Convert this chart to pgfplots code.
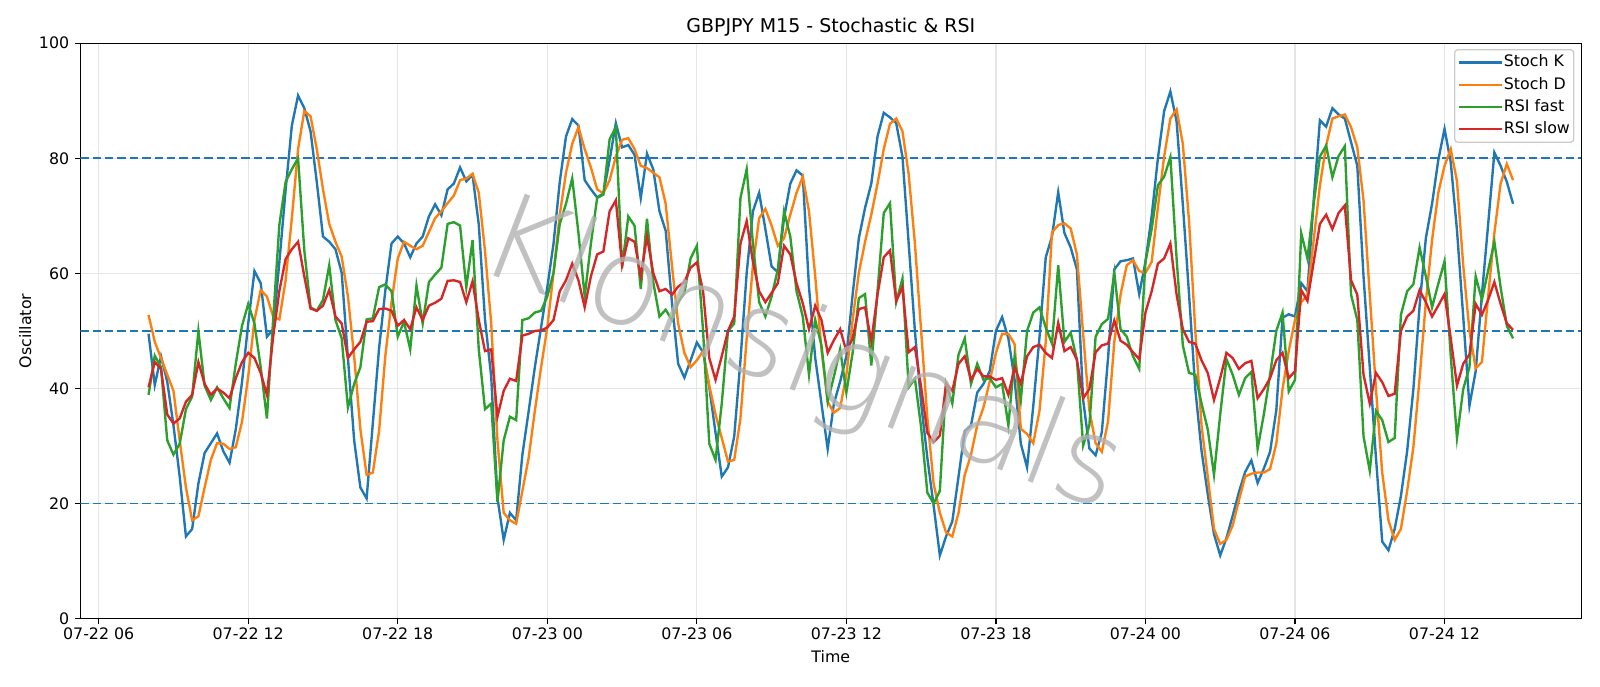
\documentclass[border=0pt]{standalone}
\usepackage{fontspec}
\setmainfont{DejaVu Sans}
\newfontfamily\wmfont{DejaVuSans-ExtraLight.ttf}
\usepackage{pgfplots}
\usepackage{pgfplotstable}
\pgfplotsset{compat=1.18}
\definecolor{c0}{HTML}{1F77B4}
\definecolor{c1}{HTML}{FF7F0E}
\definecolor{c2}{HTML}{2CA02C}
\definecolor{c3}{HTML}{D62728}
\pgfplotstableread{
t k d f s
8.00 49.5 52.8 38.9 40.2
8.25 40.6 48.1 45.7 44.6
8.50 45.6 45.3 43.7 43.4
8.75 41.2 42.4 31.0 35.5
9.00 33.6 39.6 28.5 33.9
9.25 24.7 31.0 30.4 34.8
9.50 14.3 22.8 36.4 37.7
9.75 15.6 17.1 38.6 38.9
10.00 23.5 17.8 50.0 44.6
10.25 28.8 22.8 40.5 40.8
10.50 30.5 27.6 38.0 38.9
10.75 32.2 30.5 40.2 40.0
11.00 29.1 30.4 38.3 39.3
11.25 27.1 29.5 36.6 38.3
11.50 32.9 29.8 44.3 41.8
11.75 41.1 34.2 50.9 44.6
12.00 51.3 42.1 54.7 46.2
12.25 60.4 51.9 51.3 45.3
12.50 58.3 57.1 43.7 42.7
12.75 49.0 56.0 34.8 38.9
13.00 50.3 52.5 52.0 49.0
13.25 62.0 52.0 68.5 57.0
13.50 74.5 58.8 75.9 62.5
13.75 85.7 69.6 78.1 64.2
14.00 90.9 81.6 80.0 65.5
14.25 88.7 88.2 64.0 59.5
14.50 84.7 87.3 54.1 53.9
14.75 75.9 81.6 53.5 53.5
15.00 66.4 74.6 55.4 54.4
15.25 65.5 68.6 61.4 57.1
15.50 64.2 65.5 51.9 52.5
15.75 60.1 62.9 48.7 51.3
16.00 45.3 56.0 36.7 45.3
16.25 31.0 45.6 40.8 46.8
16.50 22.8 32.9 43.7 48.1
16.75 20.9 25.0 52.0 51.6
17.00 34.0 25.4 52.2 51.7
17.25 47.0 32.6 57.6 53.8
17.50 57.0 45.6 58.1 53.9
17.75 65.2 55.0 56.9 53.5
18.00 66.4 62.6 49.0 50.9
18.25 65.2 65.5 51.6 51.9
18.50 62.8 64.8 46.8 50.3
18.75 65.2 64.2 57.9 54.1
19.00 66.4 64.8 51.3 51.9
19.25 69.9 67.2 58.5 54.4
19.50 72.0 69.6 59.8 54.9
19.75 70.1 70.8 61.0 55.6
20.00 74.6 72.2 68.6 58.7
20.25 75.6 73.5 68.9 58.8
20.50 78.4 76.2 68.3 58.5
20.75 76.0 76.5 57.6 55.0
21.00 77.1 77.3 65.8 58.6
21.25 68.5 74.0 46.8 51.9
21.50 52.0 63.9 36.4 46.5
21.75 42.0 51.3 37.4 46.8
22.00 21.0 31.0 20.3 35.1
22.25 13.7 18.4 31.0 39.6
22.50 18.4 17.1 35.1 41.7
22.75 17.1 16.5 34.5 41.3
23.00 28.5 22.2 51.9 49.2
23.25 36.0 27.9 52.2 49.5
23.50 43.7 36.1 53.2 50.0
23.75 50.6 43.7 53.5 50.1
24.00 57.6 50.6 56.0 50.6
24.25 65.2 60.1 60.1 51.9
24.50 75.9 70.2 68.6 56.9
24.75 83.8 77.5 72.1 58.8
25.00 86.8 82.5 76.5 61.7
25.25 85.7 85.4 67.0 58.8
25.50 76.2 81.6 56.0 54.1
25.75 74.6 78.4 65.2 59.5
26.00 73.2 74.6 73.1 63.3
26.25 73.9 73.9 73.7 63.8
26.50 79.7 76.2 83.3 70.8
26.75 86.1 80.3 85.4 72.7
27.00 81.9 83.2 61.0 61.4
27.25 82.3 83.5 69.9 66.1
27.50 80.6 81.6 68.3 65.5
27.75 73.1 78.7 57.3 59.5
28.00 80.8 78.3 69.5 66.4
28.25 78.1 77.5 58.5 60.1
28.50 70.8 76.7 52.5 56.9
28.75 67.4 72.1 53.7 57.3
29.00 55.0 61.4 51.9 56.3
29.25 44.3 51.3 55.0 57.7
29.50 41.9 46.2 56.6 58.5
29.75 44.9 43.7 62.6 61.0
30.00 48.0 44.9 64.8 61.9
30.25 46.3 46.5 50.0 56.9
30.50 40.2 40.5 30.4 45.3
30.75 32.3 35.5 27.6 41.5
31.00 24.7 31.4 37.4 45.6
31.25 26.3 27.3 50.0 50.0
31.50 31.7 27.6 51.3 52.5
31.75 44.9 34.8 73.1 65.2
32.00 60.1 48.7 78.1 69.1
32.25 70.8 61.4 65.2 62.0
32.50 74.0 69.6 55.0 56.9
32.75 67.7 71.2 52.5 55.0
33.00 61.2 68.3 56.0 56.6
33.25 60.2 64.8 60.7 58.3
33.50 69.7 66.1 70.8 64.8
33.75 75.6 70.2 66.4 63.3
34.00 77.9 74.0 56.9 58.3
34.25 77.0 76.8 52.5 54.8
34.50 57.6 70.8 42.4 50.3
34.75 45.3 59.5 51.9 54.4
35.00 37.4 46.8 47.5 51.9
35.25 29.5 37.7 37.7 46.2
35.50 37.4 35.8 42.1 48.4
35.75 41.2 36.6 46.8 50.3
36.00 45.6 42.4 39.3 46.5
36.25 56.3 51.9 46.2 48.7
36.50 66.1 60.1 55.7 53.8
36.75 71.4 65.5 56.4 54.1
37.00 75.6 70.2 44.0 48.2
37.25 83.8 75.6 56.9 56.3
37.50 87.9 81.6 70.5 62.8
37.75 87.1 86.0 72.2 64.0
38.00 86.1 86.9 55.0 55.2
38.25 80.3 84.7 59.1 57.6
38.50 65.2 77.2 40.2 46.3
38.75 50.0 65.2 41.7 47.2
39.00 37.4 50.0 33.2 40.2
39.25 27.9 34.8 21.9 32.3
39.50 19.7 23.5 20.0 30.7
39.75 11.0 18.4 22.2 31.8
40.00 14.3 15.0 40.8 40.8
40.25 16.9 14.3 37.4 39.6
40.50 24.7 18.4 45.9 44.3
40.75 32.6 25.0 48.7 45.6
41.00 33.6 28.5 40.8 41.5
41.25 39.3 33.6 44.3 43.4
41.50 40.8 36.7 41.5 42.1
41.75 43.0 41.2 41.8 42.1
42.00 50.0 46.2 40.2 41.5
42.25 52.4 49.5 40.8 41.8
42.50 48.7 49.5 33.6 38.9
42.75 41.5 47.7 45.6 43.7
43.00 30.4 33.0 38.0 40.8
43.25 26.3 32.1 50.0 45.6
43.50 37.0 30.5 53.2 47.2
43.75 49.0 36.2 54.1 47.6
44.00 62.8 48.1 50.6 46.2
44.25 66.4 67.1 47.8 45.3
44.50 74.1 68.4 61.4 51.4
44.75 67.0 68.7 48.1 46.5
45.00 64.5 67.8 49.7 47.2
45.25 60.7 63.3 45.0 45.0
45.50 38.0 49.5 30.1 38.3
45.75 29.6 36.2 33.6 39.9
46.00 28.4 30.5 49.0 46.3
46.25 32.4 29.0 51.2 47.5
46.50 45.3 34.3 52.1 47.8
46.75 60.7 48.1 60.1 51.8
47.00 62.1 56.3 50.3 48.3
47.25 62.3 61.4 49.0 47.6
47.50 62.6 62.3 45.6 46.3
47.75 56.4 60.4 43.4 45.1
48.00 62.0 60.1 62.0 53.2
48.25 70.0 62.0 67.7 56.9
48.50 80.0 71.5 75.3 61.7
48.75 88.2 80.3 76.8 62.6
49.00 91.6 86.9 80.2 65.2
49.25 86.4 88.5 62.6 56.3
49.50 72.0 82.5 47.5 50.3
49.75 56.3 69.0 42.7 48.1
50.00 39.9 50.0 42.4 47.8
50.25 29.2 33.6 37.4 44.9
50.50 21.6 24.7 32.9 42.7
50.75 14.7 15.6 25.0 38.0
51.00 11.0 13.0 35.5 41.8
51.25 14.0 13.7 45.1 46.2
51.50 17.9 16.2 42.4 45.3
51.75 22.0 20.6 38.9 43.4
52.00 25.5 24.7 41.8 44.4
52.25 27.5 25.2 42.9 44.8
52.50 23.6 25.4 29.5 38.3
52.75 26.1 25.4 35.5 39.9
53.00 29.0 26.0 42.4 41.8
53.25 36.2 30.4 50.0 44.9
53.50 52.3 39.9 53.2 46.2
53.75 52.9 46.5 39.5 41.8
54.00 52.5 51.9 41.5 43.0
54.25 58.3 55.0 67.0 57.1
54.50 56.9 56.3 62.6 55.2
54.75 72.7 65.8 72.1 62.0
55.00 86.6 75.3 80.3 68.6
55.25 85.5 82.2 82.2 70.2
55.50 88.7 86.9 76.7 67.7
55.75 87.6 87.3 80.4 70.5
56.00 86.9 87.6 82.1 71.8
56.25 82.8 85.4 56.3 58.8
56.50 78.7 81.9 51.9 56.3
56.75 59.5 72.7 31.7 42.4
57.00 43.7 56.3 25.7 37.4
57.25 27.9 39.9 36.1 42.7
57.50 13.4 25.4 34.5 41.1
57.75 11.9 17.1 30.7 38.7
58.00 15.6 13.7 31.4 39.1
58.25 21.3 15.6 52.8 50.0
58.50 29.1 22.2 56.9 52.5
58.75 39.9 29.8 58.1 53.5
59.00 54.4 41.8 64.5 57.1
59.25 66.1 55.0 59.5 55.0
59.50 72.1 65.8 54.1 52.5
59.75 79.7 74.0 58.2 54.4
60.00 85.1 78.7 62.1 56.4
60.25 79.3 81.6 45.6 48.7
60.50 67.5 76.0 31.4 40.5
60.75 52.5 61.4 39.9 44.3
61.00 37.0 50.0 43.7 45.9
61.25 43.0 43.5 59.5 54.7
61.50 56.3 44.6 55.4 52.8
61.75 68.5 56.0 60.5 55.4
62.00 81.0 67.0 65.5 58.5
62.25 78.7 75.6 57.6 54.7
62.50 75.9 79.0 50.9 51.3
62.75 72.1 76.2 48.7 50.2
}\data
\begin{document}
\begin{tikzpicture}
\begin{axis}[
  at={(0,0)}, anchor=south west,
  scale only axis, width=945.6bp, height=362.6bp,
  xmin=5.2625, xmax=65.4875, ymin=0, ymax=100,
  xtick={6,12,18,24,30,36,42,48,54,60},
  xticklabels={07-22 06,07-22 12,07-22 18,07-23 00,07-23 06,07-23 12,07-23 18,07-24 00,07-24 06,07-24 12},
  ytick={0,20,40,60,80,100},
  tick align=outside, major tick length=3.5bp,
  tick pos=left,
  every tick/.style={black, line width=0.8bp},
  axis line style={line width=0.8bp, black},
  grid=major,
  major grid style={line width=0.8bp, color=black!10},
  tick label style={font=\fontsize{10}{12}\selectfont},
  xticklabel style={yshift=1.6bp},
  /pgf/number format/assume math mode=true,
  xlabel={Time}, ylabel={Oscillator},
  every axis x label/.style={at={(axis description cs:0.5,0)}, anchor=base, yshift=-27.6bp, font=\fontsize{10}{12}\selectfont},
  every axis y label/.style={at={(axis description cs:0,0.5)}, xshift=-31bp, anchor=base, rotate=90, font=\fontsize{10}{12}\selectfont},
  title={GBPJPY M15 - Stochastic \& RSI},
  every axis title/.style={at={(axis description cs:0.5,1)}, anchor=base, yshift=6.9bp, font=\fontsize{12}{14}\selectfont},
  legend style={at={(rel axis cs:1,1)}, anchor=north east, xshift=-4.3bp, yshift=-3.7bp,
    draw=black!20, line width=0.8bp, rounded corners=2bp, fill=white, fill opacity=0.8, text opacity=1,
    font=\fontsize{10}{12}\selectfont, inner xsep=2bp, inner ysep=2.8bp, row sep=3.3bp,
    nodes={inner sep=0.5bp, text height=7.5bp, text depth=2.2bp}},
  legend cell align=left,
  legend image code/.code={\draw[#1, line width=1.5bp] (2bp,0bp) -- (22bp,0bp); \path (0bp,0bp) -- (27bp,0bp);},
]
\addplot[forget plot, c0, line width=1bp, dash pattern=on 5.3bp off 2.5bp] coordinates {(5.2625,80) (65.4875,80)};
\addplot[forget plot, c0, line width=1bp, dash pattern=on 5.3bp off 2.5bp] coordinates {(5.2625,50) (65.4875,50)};
\addplot[forget plot, c0, line width=1bp, dash pattern=on 5.3bp off 2.5bp] coordinates {(5.2625,20) (65.4875,20)};
\addplot[c0, line width=1.5bp] table[x=t, y=k] {\data};
\addlegendentry{Stoch K}
\addplot[c1, line width=1.5bp] table[x=t, y=d] {\data};
\addlegendentry{Stoch D}
\addplot[c2, line width=1.5bp] table[x=t, y=f] {\data};
\addlegendentry{RSI fast}
\addplot[c3, line width=1.5bp] table[x=t, y=s] {\data};
\addlegendentry{RSI slow}
\node[rotate=-21, font=\wmfont\fontsize{76}{76}\selectfont, text=black!30, opacity=0.8] at (axis cs:34.2,45.2) {Klonsignals};
\end{axis}
\path[use as bounding box] (-50.6bp,-42.4bp) rectangle (957.4bp,389.8bp);
\end{tikzpicture}
\end{document}
